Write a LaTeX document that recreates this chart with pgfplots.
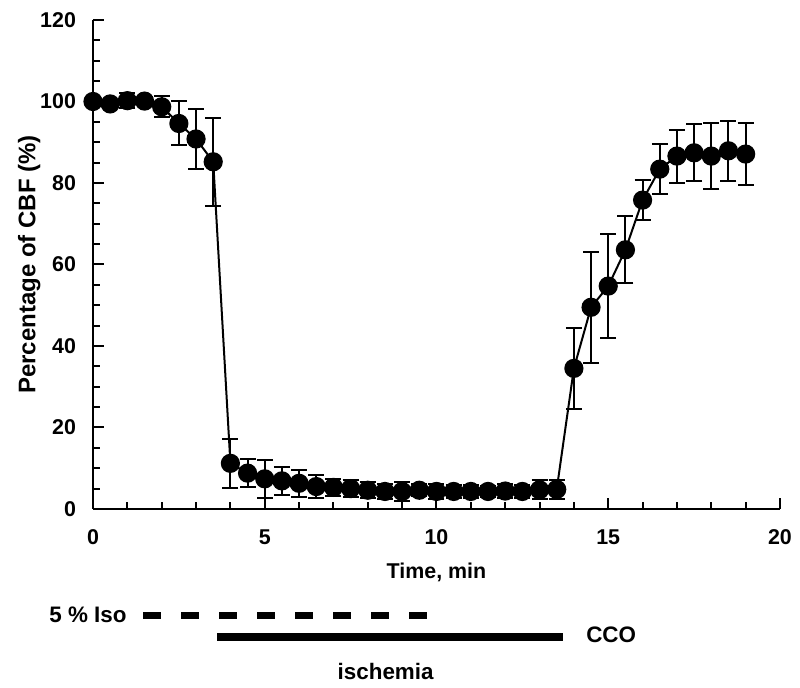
\documentclass[border=0pt]{standalone}
\usepackage{fontspec}
\setmainfont{Liberation Sans}
\usepackage{pgfplots}
\pgfplotsset{compat=1.18}

\pgfplotstableread{
t    y      e
0    100.0  0.5
0.5  99.4   1.0
1    100.2  1.8
1.5  100.1  1.0
2    98.7   2.6
2.5  94.6   5.4
3    90.8   7.4
3.5  85.2   10.8
4    11.2   6.0
4.5  8.8    3.5
5    7.4    4.6
5.5  6.9    3.5
6    6.3    3.3
6.5  5.5    2.8
7    5.3    2.1
7.5  5.0    2.0
8    4.6    2.0
8.5  4.3    1.9
9    4.3    2.3
9.5  4.6    1.5
10   4.3    1.9
10.5 4.3    1.6
11   4.3    1.6
11.5 4.3    1.3
12   4.4    1.8
12.5 4.3    1.5
13   4.7    2.3
13.5 4.8    2.3
14   34.5   9.9
14.5 49.5   13.6
15   54.7   12.7
15.5 63.6   8.2
16   75.8   5.0
16.5 83.4   6.1
17   86.6   6.5
17.5 87.4   7.0
18   86.6   8.0
18.5 87.9   7.4
19   87.1   7.5
}\cbf

\newcommand\lbl{\bfseries\fontsize{10.7}{12}\selectfont}

\begin{document}
\begin{tikzpicture}
\begin{axis}[
  scale only axis,
  width=343.5pt, height=244.5pt,
  xmin=0, xmax=20, ymin=0, ymax=120,
  axis x line*=bottom, axis y line*=left,
  axis line style={line width=1.1pt},
  xtick={0,5,...,20}, ytick={0,20,...,120},
  minor x tick num=4, minor y tick num=3,
  tick align=inside,
  major tick length=5.5pt, minor tick length=3.5pt,
  every tick/.style={black, line width=1pt},
  /pgf/number format/assume math mode=true,
  ticklabel style={font=\lbl},
  xticklabel style={yshift=-7pt},
  yticklabel style={xshift=-5pt},
  xlabel={Time, min},
  ylabel={Percentage of CBF (\%)},
  xlabel style={font=\lbl, yshift=-2pt},
  ylabel style={font=\bfseries\fontsize{12}{14}\selectfont, yshift=-7pt},
  clip=false,
]
\addplot[black, line width=1pt, mark=*, mark size=4.3pt,
  error bars/.cd, y dir=both, y explicit,
  error mark options={rotate=90, mark size=4pt, line width=1pt},
  error bar style={line width=1pt}]
  table[x=t, y=y, y error=e] {\cbf};

% treatment bars under the time axis
\addplot[black, line width=3.5pt, dash pattern=on 9pt off 10pt, forget plot]
  coordinates {(1.46,-26.1) (9.72,-26.1)};
\addplot[black, line width=4pt, forget plot]
  coordinates {(3.61,-31.4) (13.68,-31.4)};
\node[font=\bfseries\fontsize{11.2}{13}\selectfont, anchor=east, inner sep=0pt]
  at (axis cs:0.99,-26.0) {5 \% Iso};
\node[font=\bfseries\fontsize{11.2}{13}\selectfont, anchor=west, inner sep=0pt]
  at (axis cs:14.35,-30.9) {CCO};
\node[font=\bfseries\fontsize{11.2}{13}\selectfont, inner sep=0pt]
  at (axis cs:8.52,-39.9) {ischemia};
\end{axis}
\path (-46.5pt,-89.5pt) rectangle (353.5pt,254.5pt);
\end{tikzpicture}
\end{document}
